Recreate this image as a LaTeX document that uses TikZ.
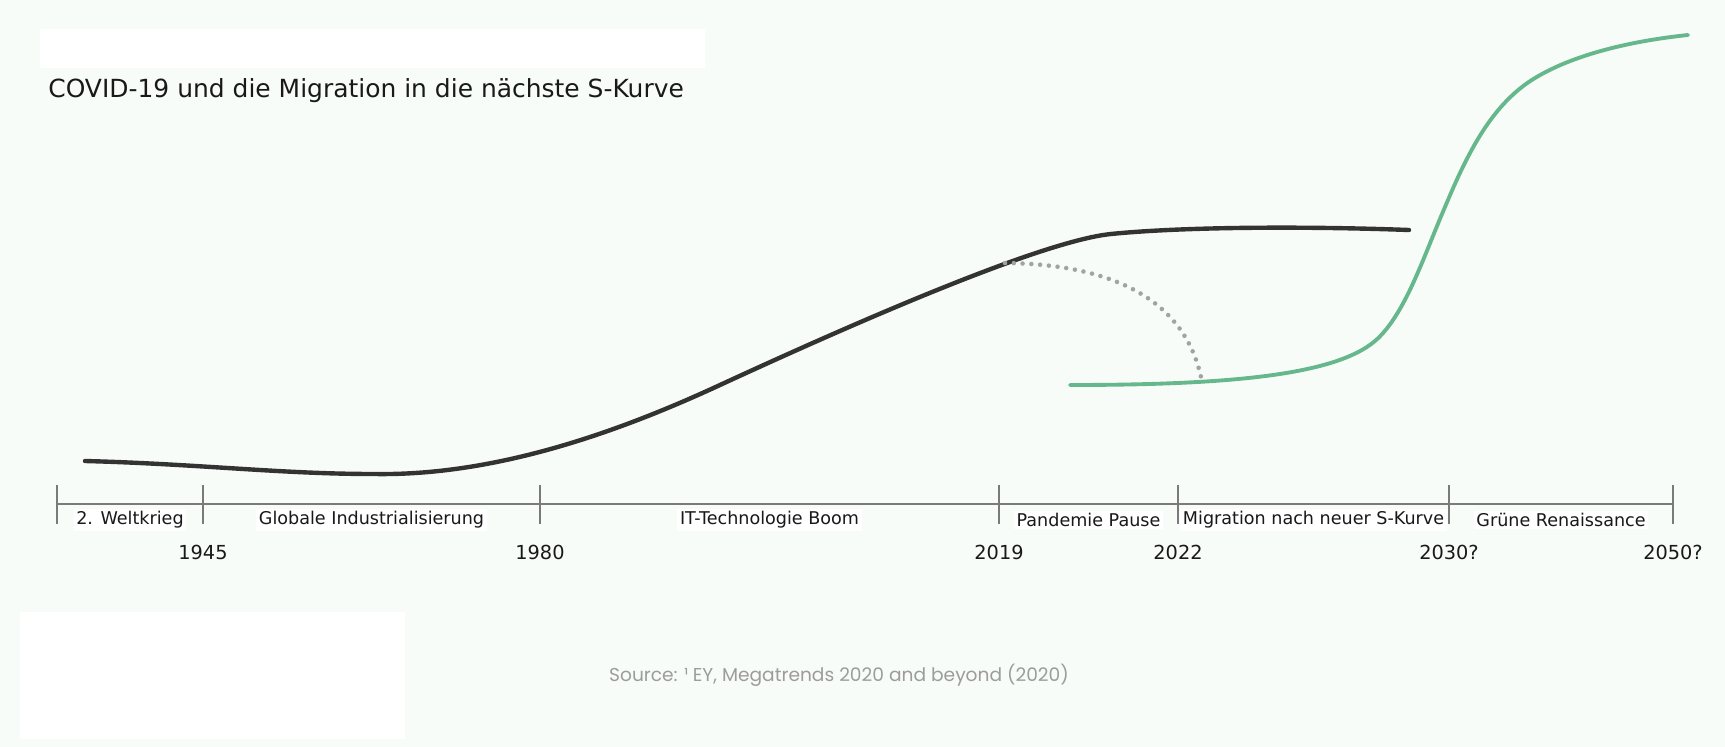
\documentclass[tikz,border=0pt]{standalone}
\usepackage{fontspec}
\setmainfont{DejaVu Sans}
\newfontfamily\srcfont{Poppins}
\usetikzlibrary{positioning,calc}
\definecolor{bgmint}{HTML}{F8FCF9}
\definecolor{curveblack}{HTML}{333333}
\definecolor{curvegreen}{HTML}{66B88C}
\definecolor{axisgray}{HTML}{7A7A7A}
\definecolor{dotgray}{HTML}{A3A3A3}
\definecolor{srcgray}{HTML}{9C9C9C}

\begin{document}
\begin{tikzpicture}[x=0.02cm, y=-0.02cm,
    phase/.style={font=\fontsize{10}{12}\selectfont, fill=white, inner sep=1.5pt, text=black!90},
    year/.style={font=\fontsize{11}{13}\selectfont, text=black!90},
    timeline/.style={draw=axisgray, line width=1.7pt},
    tickmark/.style={draw=axisgray, line width=1.1pt},
    scurve/.style={line width=#1, line cap=round},
    hdr/.style={font=\fontsize{14.2}{17}\selectfont, text=black!90, anchor=west, inner sep=0pt},
    note/.style={font=\srcfont\fontsize{10.6}{13}\selectfont, text=srcgray}
]
% --- Canvas ---
\fill[bgmint] (0,0) rectangle (1725,747);
\useasboundingbox (0,0) rectangle (1725,747);
\fill[white] (40,29) rectangle (705,68);
\fill[white] (20,612) rectangle (405,739);

% --- Title ---
\node[hdr] (title) at (48,91) {COVID-19 und die Migration in die nächste S-Kurve};

% --- Timeline ---
\foreach \name/\x in {t0/57, t1/203, t2/540, t3/999, t4/1178, t5/1449, t6/1673}
    \coordinate (\name) at (\x,504);
\node[phase] (ww) at ($(t0)!0.5!(t1)+(0,16)$) {2. Weltkrieg};
\node[phase] (ind) at ($(t1)!0.5!(t2)+(0,16)$) {Globale Industrialisierung};
\node[phase] (it) at ($(t2)!0.5!(t3)+(0,16)$) {IT-Technologie Boom};
\node[phase] (pan) at ($(t3)!0.5!(t4)+(0,16)$) {Pandemie Pause};
\node[phase] (mig) at ($(t4)!0.5!(t5)+(0,16)$) {Migration nach neuer S-Kurve};
\node[phase] (gr) at ($(t5)!0.5!(t6)+(0,16)$) {Grüne Renaissance};
\draw[timeline] (t0) -- (t6);
\foreach \name in {t0,t1,t2,t3,t4,t5,t6}
    \draw[tickmark] ($(\name)+(0,-19)$) -- ($(\name)+(0,20)$);
\node[year] (y1) at ($(t1)+(0,48)$) {1945};
\node[year] (y2) at ($(t2)+(0,48)$) {1980};
\node[year] (y3) at ($(t3)+(0,48)$) {2019};
\node[year] (y4) at ($(t4)+(0,48)$) {2022};
\node[year] (y5) at ($(t5)+(0,48)$) {2030?};
\node[year] (y6) at ($(t6)+(0,48)$) {2050?};

% --- Curves ---
\draw[scurve=2.5pt, curveblack] (85,461) .. controls (200,464) and (280,474) .. (374,474)
    .. controls (490,476) and (610,436) .. (720,385)
    .. controls (850,325) and (1041,241) .. (1111,234)
    .. controls (1180,227) and (1300,226) .. (1409,230);
\draw[scurve=2.2pt, curvegreen] (1070,385) .. controls (1230,385) and (1335,375) .. (1375,341)
    .. controls (1405,315) and (1423,258) .. (1445,207)
    .. controls (1468,152) and (1492,104) .. (1535,78)
    .. controls (1578,52) and (1640,40) .. (1688,35);
\draw[scurve=2.6pt, dotgray, dash pattern=on 0pt off 5pt] (1005,263) .. controls (1100,264) and (1182,292) .. (1201,377);

% --- Source ---
\node[note] (src) at (839,675) {Source: ¹ EY, Megatrends 2020 and beyond (2020)};
\end{tikzpicture}
\end{document}
